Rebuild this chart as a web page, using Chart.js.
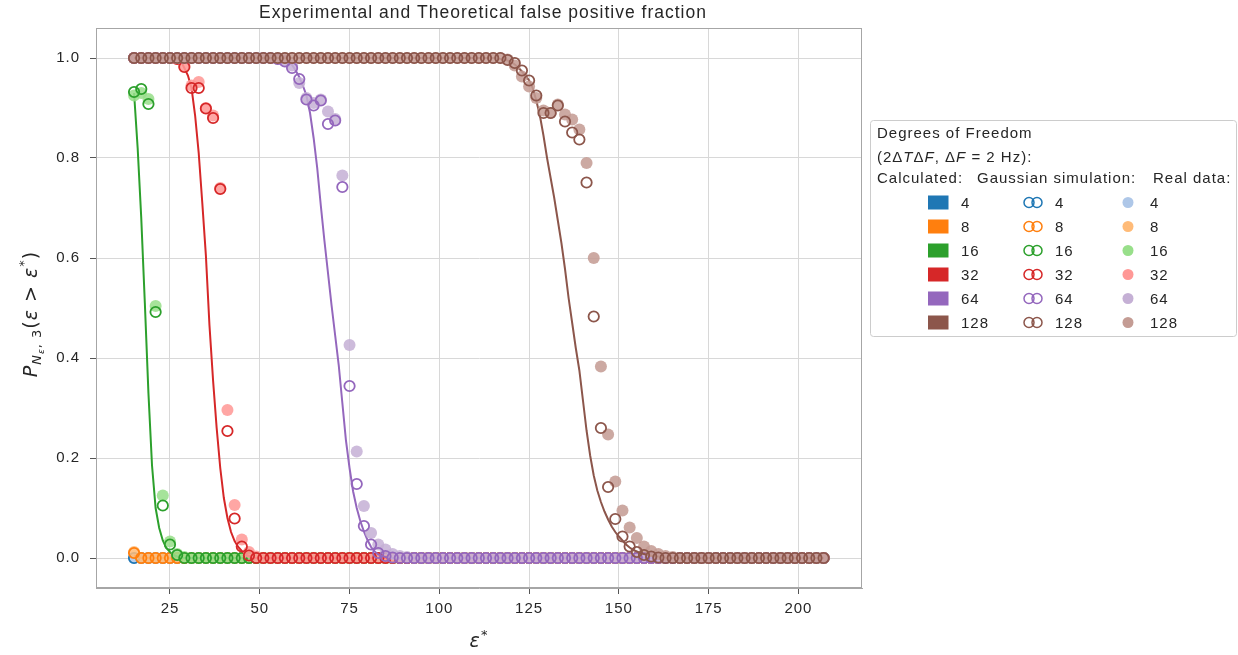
<!DOCTYPE html>
<html>
<head>
<meta charset="utf-8">
<script src="https://cdn.jsdelivr.net/npm/chart.js@4.4.0/dist/chart.umd.min.js"></script>
<style>
  html, body { margin: 0; padding: 0; background: #fff; }
  #wrap { width: 1238px; height: 655px; }
</style>
</head>
<body>
<div id="wrap"><canvas id="fpChart" width="1238" height="655"></canvas></div>
<script>
// Threshold grid used by the Gaussian simulation and the real data
const eps = [15, 17, 19, 21, 23, 25, 27, 29, 31, 33, 35, 37, 39, 41, 43, 45, 47, 49, 51, 53,
  55, 57, 59, 61, 63, 65, 67, 69, 71, 73, 75, 77, 79, 81, 83, 85, 87, 89, 91, 93,
  95, 97, 99, 101, 103, 105, 107, 109, 111, 113, 115, 117, 119, 121, 123, 125, 127, 129, 131, 133,
  135, 137, 139, 141, 143, 145, 147, 149, 151, 153, 155, 157, 159, 161, 163, 165, 167, 169, 171, 173,
  175, 177, 179, 181, 183, 185, 187, 189, 191, 193, 195, 197, 199, 201, 203, 205, 207];

const dof = [4, 8, 16, 32, 64, 128];
const xTicks = [25, 50, 75, 100, 125, 150, 175, 200];
const yTicks = [0, 0.2, 0.4, 0.6, 0.8, 1.0];

const flat = (v, n) => Array(n).fill(v);
const tail = (arr, v) => arr.concat(flat(v, eps.length - arr.length));

// Gaussian simulation (open circles)
const sim4 = tail([], 0);
const sim8 = tail([0.01], 0);
const sim16 = tail([0.932, 0.938, 0.908, 0.492, 0.105, 0.027, 0.006], 0);
const sim32 = tail([...flat(1, 6), 0.998, 0.982, 0.94, 0.94, 0.899, 0.88, 0.738, 0.254, 0.079, 0.023, 0.005], 0);
const sim64 = tail([...flat(1, 20), 0.998, 0.993, 0.98, 0.958, 0.917, 0.905, 0.915, 0.868, 0.875, 0.742,
  0.344, 0.148, 0.064, 0.027, 0.01, 0.004, 0.001], 0);
const sim128 = tail([...flat(1, 52), 0.996, 0.99, 0.975, 0.955, 0.925, 0.89, 0.89, 0.905, 0.873, 0.851,
  0.837, 0.751, 0.483, 0.26, 0.142, 0.078, 0.043, 0.023, 0.012, 0.006, 0.003, 0.001], 0);

// Real data (filled circles)
const real4 = tail([], 0);
const real8 = tail([0.012], 0);
const real16 = tail([0.925, 0.93, 0.918, 0.504, 0.125, 0.033, 0.008, 0.002], 0);
const real32 = tail([...flat(1, 6), 0.999, 0.985, 0.945, 0.952, 0.9, 0.885, 0.74, 0.296, 0.106, 0.037, 0.012, 0.003], 0);
const real64 = tail([...flat(1, 20), 0.998, 0.995, 0.985, 0.95, 0.92, 0.91, 0.917, 0.893, 0.878, 0.765,
  0.426, 0.213, 0.104, 0.05, 0.027, 0.017, 0.008, 0.004, 0.002], 0);
const real128 = tail([...flat(1, 52), 0.997, 0.985, 0.963, 0.943, 0.92, 0.895, 0.89, 0.907, 0.887, 0.877,
  0.857, 0.79, 0.6, 0.383, 0.247, 0.153, 0.095, 0.061, 0.04, 0.023, 0.014, 0.008, 0.004, 0.002], 0);

// Calculated curves
const calcX4 = [15, 207];
const calcY4 = [0, 0];
const calcX8 = [15, 16, 17, 207];
const calcY8 = [0.005, 0.002, 0, 0];
const calcX16 = [15, 16, 17, 18, 19, 20, 21, 22, 23, 24, 25, 26, 27, 28, 29, 207];
const calcY16 = [0.93, 0.82, 0.68, 0.51, 0.33, 0.185, 0.1, 0.06, 0.035, 0.02, 0.012, 0.006, 0.003, 0.001, 0, 0];
const calcX32 = [15, 27, 28, 29, 30, 31, 32, 33, 34, 35, 36, 37, 38, 39, 40, 41, 42, 43, 44, 45, 46, 47, 48, 49, 207];
const calcY32 = [1, 1, 0.995, 0.98, 0.965, 0.94, 0.885, 0.81, 0.71, 0.605, 0.465, 0.355, 0.26, 0.18, 0.12, 0.08,
  0.052, 0.034, 0.022, 0.014, 0.008, 0.004, 0.001, 0, 0];
const calcX64 = [15, 55, 56, 57, 58, 59, 60, 61, 62, 63, 64, 65, 66, 67, 68, 69, 70, 71, 72, 73, 74, 75, 76, 77,
  78, 79, 80, 81, 82, 83, 84, 85, 86, 87, 207];
const calcY64 = [1, 1, 0.999, 0.997, 0.993, 0.986, 0.975, 0.962, 0.945, 0.925, 0.89, 0.84, 0.78, 0.705, 0.635,
  0.57, 0.505, 0.445, 0.385, 0.31, 0.235, 0.18, 0.133, 0.1, 0.074, 0.053, 0.036, 0.022, 0.013, 0.007, 0.004,
  0.002, 0.001, 0, 0];
const calcX128 = [15, 115, 116, 117, 118, 119, 120, 121, 122, 123, 124, 125, 126, 127, 128, 129, 130, 131, 132,
  133, 134, 135, 136, 137, 138, 139, 140, 141, 142, 143, 144, 145, 146, 147, 148, 149, 150, 151, 152, 153, 154,
  155, 156, 157, 158, 159, 160, 161, 162, 163, 164, 207];
const calcY128 = [1, 1, 0.999, 0.998, 0.997, 0.995, 0.992, 0.987, 0.981, 0.973, 0.965, 0.955, 0.94, 0.915, 0.885,
  0.845, 0.8, 0.76, 0.72, 0.675, 0.63, 0.578, 0.52, 0.47, 0.42, 0.375, 0.315, 0.255, 0.205, 0.165, 0.135, 0.112,
  0.093, 0.077, 0.063, 0.052, 0.043, 0.035, 0.027, 0.021, 0.016, 0.013, 0.01, 0.008, 0.006, 0.005, 0.004, 0.003,
  0.002, 0.001, 0, 0];

const simSets = [sim4, sim8, sim16, sim32, sim64, sim128];
const realSets = [real4, real8, real16, real32, real64, real128];
const calcXs = [calcX4, calcX8, calcX16, calcX32, calcX64, calcX128];
const calcYs = [calcY4, calcY8, calcY16, calcY32, calcY64, calcY128];

const dark = ['#1f77b4', '#ff7f0e', '#2ca02c', '#d62728', '#9467bd', '#8c564b'];
const light = ['#aec7e8', '#ffbb78', '#98df8a', '#ff9896', '#c5b0d5', '#c49c94'];

const TEXT = '#262626';
const SPINE = '#a6a6a6';
const SANS = '"Liberation Sans", Arial, sans-serif';
const MATH = '"DejaVu Sans", sans-serif';

// each degree of freedom: curve, then real points, then simulated rings on top
const datasets = [];
dof.forEach((n, i) => {
  datasets.push({
    label: 'Calculated ' + n,
    data: calcXs[i].map((x, k) => ({ x: x, y: calcYs[i][k] })),
    showLine: true,
    borderColor: dark[i],
    borderWidth: 2,
    pointRadius: 0,
    fill: false
  });
  datasets.push({
    label: 'Real data ' + n,
    data: eps.map((x, k) => ({ x: x, y: realSets[i][k] })),
    pointRadius: 6,
    pointBorderWidth: 0,
    backgroundColor: light[i] + 'dd',
    borderColor: 'rgba(0,0,0,0)'
  });
  datasets.push({
    label: 'Gaussian simulation ' + n,
    data: eps.map((x, k) => ({ x: x, y: simSets[i][k] })),
    pointRadius: 5.2,
    pointBorderWidth: 1.8,
    borderColor: dark[i],
    backgroundColor: 'rgba(0,0,0,0)'
  });
});
// higher order is drawn first
datasets.forEach((d, k) => { d.order = datasets.length - k; });

// draws a row of text runs (font / vertical shift) starting at x, or centred on x
function drawRuns(ctx, runs, x, y, center) {
  let total = 0;
  runs.forEach(r => { ctx.font = r.f; r.w = ctx.measureText(r.t).width; total += r.w; });
  let cx = center ? x - total / 2 : x;
  runs.forEach(r => {
    ctx.font = r.f;
    ctx.fillText(r.t, cx, y + (r.dy || 0));
    cx += r.w;
  });
}

const spacing = {
  id: 'spacing',
  beforeUpdate(chart) { chart.ctx.letterSpacing = '1px'; },
  beforeDraw(chart) { chart.ctx.letterSpacing = '1px'; }
};

const decorations = {
  id: 'decorations',
  afterDraw(chart) {
    const ctx = chart.ctx;
    const a = chart.chartArea;
    ctx.save();
    ctx.letterSpacing = '1px';

    // frame around the plot
    ctx.strokeStyle = SPINE;
    ctx.lineWidth = 1;
    ctx.strokeRect(Math.round(a.left) + 0.5, Math.round(a.top) + 0.5,
      Math.round(a.right - a.left) - 1, Math.round(a.bottom - a.top) - 1);

    ctx.fillStyle = TEXT;
    ctx.textAlign = 'left';
    ctx.textBaseline = 'alphabetic';

    // title
    ctx.font = '17.5px ' + SANS;
    const title = 'Experimental and Theoretical false positive fraction';
    ctx.fillText(title, (a.left + a.right) / 2 + 4 - ctx.measureText(title).width / 2, 18);

    // x axis label
    drawRuns(ctx, [
      { t: 'ε', f: 'italic 19px ' + MATH },
      { t: '*', f: '13px ' + MATH, dy: -8 }
    ], (a.left + a.right) / 2, 647, true);

    // y axis label, rotated
    ctx.save();
    ctx.translate(37, 314);
    ctx.rotate(-Math.PI / 2);
    drawRuns(ctx, [
      { t: 'P', f: 'italic 19px ' + MATH },
      { t: 'N', f: 'italic 13px ' + MATH, dy: 4 },
      { t: 'ε', f: 'italic 9px ' + MATH, dy: 7 },
      { t: ', 3', f: '13px ' + MATH, dy: 4 },
      { t: '(', f: '19px ' + MATH },
      { t: 'ε', f: 'italic 19px ' + MATH },
      { t: ' > ', f: '19px ' + MATH },
      { t: 'ε', f: 'italic 19px ' + MATH },
      { t: '*', f: '13px ' + MATH, dy: -9 },
      { t: ')', f: '19px ' + MATH }
    ], 0, 0, true);
    ctx.restore();

    // legend box
    const bx = 870.5, by = 120.5, bw = 366, bh = 216;
    ctx.strokeStyle = '#cccccc';
    ctx.lineWidth = 1;
    ctx.beginPath();
    ctx.roundRect(bx, by, bw, bh, 3);
    ctx.stroke();

    ctx.textBaseline = 'middle';
    ctx.font = '15px ' + SANS;
    ctx.fillText('Degrees of Freedom', 877, 133.5);
    drawRuns(ctx, [
      { t: '(2Δ', f: '15px ' + SANS },
      { t: 'T', f: 'italic 15px ' + SANS },
      { t: 'Δ', f: '15px ' + SANS },
      { t: 'F', f: 'italic 15px ' + SANS },
      { t: ', Δ', f: '15px ' + SANS },
      { t: 'F', f: 'italic 15px ' + SANS },
      { t: ' = 2 Hz):', f: '15px ' + SANS }
    ], 877, 157.5, false);
    ctx.font = '15px ' + SANS;
    ctx.fillText('Calculated:', 877, 178.5);
    ctx.fillText('Gaussian simulation:', 977, 178.5);
    ctx.fillText('Real data:', 1153, 178.5);

    dof.forEach((n, i) => {
      const y = 202.5 + 24 * i;
      ctx.fillStyle = dark[i];
      ctx.fillRect(928, y - 7, 20.5, 14);
      ctx.strokeStyle = dark[i];
      ctx.lineWidth = 1.5;
      [1029, 1037].forEach(cx => {
        ctx.beginPath();
        ctx.arc(cx, y, 5, 0, Math.PI * 2);
        ctx.stroke();
      });
      ctx.fillStyle = light[i];
      ctx.beginPath();
      ctx.arc(1128, y, 5.5, 0, Math.PI * 2);
      ctx.fill();
      ctx.fillStyle = TEXT;
      ctx.font = '15px ' + SANS;
      ctx.fillText(String(n), 961, y + 1);
      ctx.fillText(String(n), 1055, y + 1);
      ctx.fillText(String(n), 1150, y + 1);
    });
    ctx.restore();
  }
};

new Chart(document.getElementById('fpChart'), {
  type: 'scatter',
  data: { datasets: datasets },
  options: {
    responsive: false,
    animation: false,
    devicePixelRatio: 1,
    layout: { padding: { top: 28, right: 376, bottom: 0, left: 0 } },
    plugins: {
      legend: { display: false },
      tooltip: { enabled: false },
      title: { display: false }
    },
    scales: {
      x: {
        type: 'linear',
        min: 4.4,
        max: 217.7,
        afterBuildTicks: s => { s.ticks = xTicks.map(v => ({ value: v })); },
        afterFit: s => { s.height = 67; },
        grid: { color: '#d8d8d8', lineWidth: 1, tickColor: '#555', tickLength: 6 },
        border: { color: SPINE, width: 1 },
        ticks: { color: TEXT, font: { family: SANS, size: 15 }, padding: 6, maxRotation: 0 }
      },
      y: {
        type: 'linear',
        min: -0.06,
        max: 1.06,
        afterBuildTicks: s => { s.ticks = yTicks.map(v => ({ value: v })); },
        afterFit: s => { s.width = 96; },
        grid: { color: '#d8d8d8', lineWidth: 1, tickColor: '#555', tickLength: 6 },
        border: { color: SPINE, width: 1 },
        ticks: { color: TEXT, font: { family: SANS, size: 15 }, padding: 10, callback: v => v.toFixed(1) }
      }
    }
  },
  plugins: [spacing, decorations]
});
</script>
</body>
</html>
